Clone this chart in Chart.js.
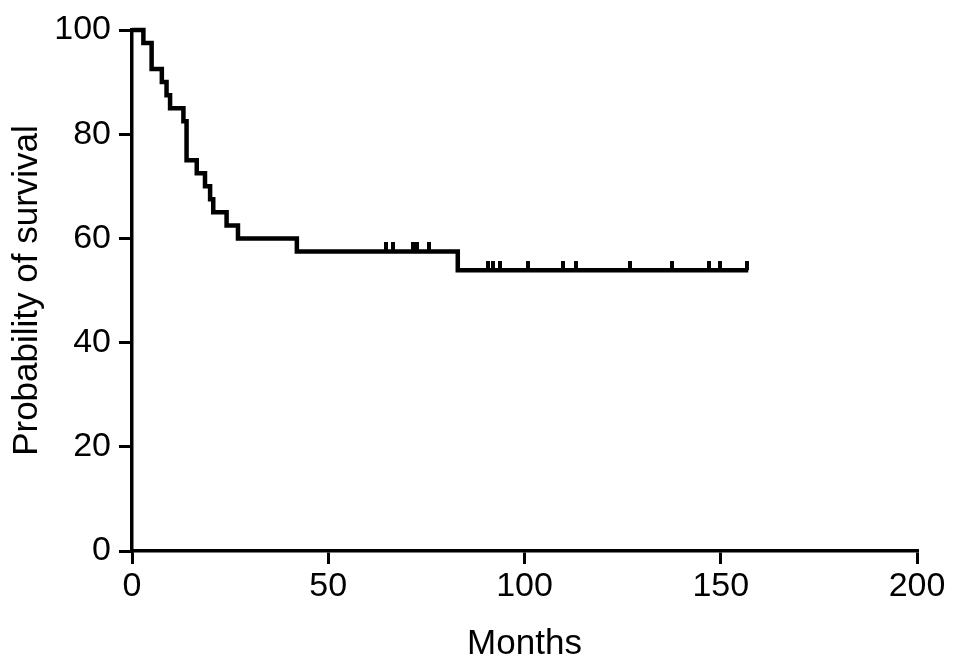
<!DOCTYPE html>
<html lang="en">
<head>
    <meta charset="UTF-8">
    <title>Probability of survival</title>
    <script src="https://cdn.jsdelivr.net/npm/chart.js"></script>
    <style>
        body {
            margin: 0;
            padding: 0;
            background-color: #ffffff;
        }
        canvas {
            display: block;
        }
    </style>
</head>
<body>
    <canvas id="kmChart" width="969" height="669"></canvas>

    <script>
        // Kaplan-Meier steps (months, survival % after the event)
        const eventMonths = [0, 2.9, 5.0, 7.6, 8.8, 9.7, 13.1, 13.9, 16.5, 18.6, 19.9, 20.7, 24.1, 27.0, 42.0, 83.0, 157.0];
        const survival    = [100, 97.5, 92.5, 90, 87.5, 85, 82.5, 75, 72.5, 70, 67.5, 65, 62.5, 60, 57.5, 53.9, 53.9];

        // Censored patients (tick marks)
        const censorMonths = [64.8, 66.5, 71.6, 72.7, 75.7, 90.8, 92.0, 93.8, 101.0, 109.9, 113.0, 127.0, 137.7, 146.9, 149.9, 156.8];
        const censorLevels = [57.5, 57.5, 57.5, 57.5, 57.5, 53.9, 53.9, 53.9, 53.9, 53.9, 53.9, 53.9, 53.9, 53.9, 53.9, 53.9];

        const xTicks = [0, 50, 100, 150, 200];
        const yTicks = [0, 20, 40, 60, 80, 100];

        // small upward tick used as point style for censored marks
        const tick = document.createElement('canvas');
        tick.width = 4;
        tick.height = 18;
        const tctx = tick.getContext('2d');
        tctx.fillStyle = '#000';
        tctx.fillRect(0, 0, 4, 9);

        const font = { family: '"Liberation Sans", Arial, sans-serif', size: 34 };
        const titleFont = { family: '"Liberation Sans", Arial, sans-serif', size: 35 };

        const ctx = document.getElementById('kmChart').getContext('2d');
        new Chart(ctx, {
            type: 'line',
            data: {
                datasets: [{
                    data: eventMonths.map((m, i) => ({ x: m, y: survival[i] })),
                    borderColor: '#000',
                    borderWidth: 4.5,
                    stepped: 'before',
                    pointRadius: 0,
                    fill: false,
                    clip: false
                }, {
                    data: censorMonths.map((m, i) => ({ x: m, y: censorLevels[i] })),
                    showLine: false,
                    pointStyle: tick,
                    pointRadius: 5,
                    clip: false
                }]
            },
            options: {
                responsive: false,
                animation: false,
                layout: { padding: { left: 0, right: 52, top: 30, bottom: 0 } },
                plugins: { legend: { display: false }, tooltip: { enabled: false } },
                scales: {
                    x: {
                        type: 'linear',
                        min: 0,
                        max: 200,
                        afterBuildTicks: (s) => { s.ticks = xTicks.map(v => ({ value: v })); },
                        afterFit: (s) => { s.height = 118; },
                        grid: { drawOnChartArea: false, drawTicks: true, tickLength: 13, lineWidth: 3, color: '#000' },
                        border: { display: true, width: 3.5, color: '#000' },
                        ticks: { color: '#000', font: font, padding: 2, maxRotation: 0 },
                        title: { display: true, text: 'Months', color: '#000', font: titleFont, padding: { top: 0, bottom: 4 } }
                    },
                    y: {
                        min: 0,
                        max: 100,
                        afterBuildTicks: (s) => { s.ticks = yTicks.map(v => ({ value: v })); },
                        afterFit: (s) => { s.width = 132; },
                        grid: { drawOnChartArea: false, drawTicks: true, tickLength: 13, lineWidth: 3, color: '#000' },
                        border: { display: true, width: 3.5, color: '#000' },
                        ticks: { color: '#000', font: font, padding: 8 },
                        title: { display: true, text: 'Probability of survival', color: '#000', font: titleFont, padding: { top: 6, bottom: 0 } }
                    }
                }
            }
        });
    </script>
</body>
</html>
